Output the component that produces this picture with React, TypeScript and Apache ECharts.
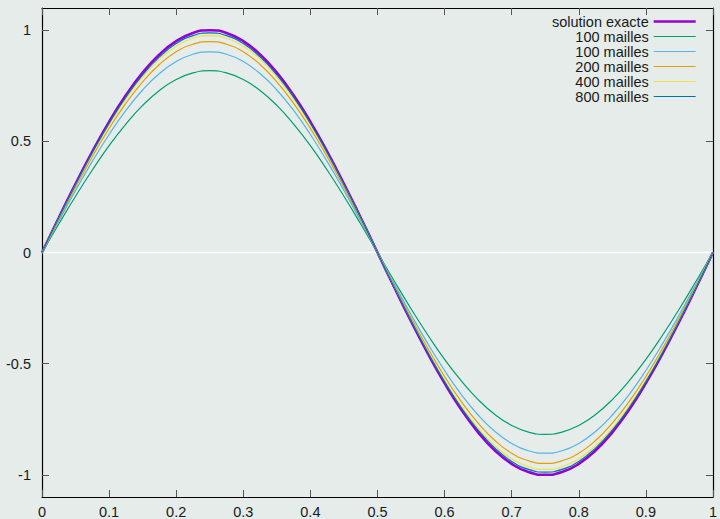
import React, { useEffect, useRef } from "react";
import * as echarts from "echarts";

const xs = [0, 0.025, 0.05, 0.075, 0.1, 0.125, 0.15, 0.175, 0.2, 0.225, 0.25, 0.275, 0.3, 0.325, 0.35, 0.375, 0.4, 0.425, 0.45, 0.475, 0.5, 0.525, 0.55, 0.575, 0.6, 0.625, 0.65, 0.675, 0.7, 0.725, 0.75, 0.775, 0.8, 0.825, 0.85, 0.875, 0.9, 0.925, 0.95, 0.975, 1];

const exacte = [0, 0.156, 0.309, 0.454, 0.588, 0.707, 0.809, 0.891, 0.951, 0.988, 1, 0.988, 0.951, 0.891, 0.809, 0.707, 0.588, 0.454, 0.309, 0.156, 0, -0.156, -0.309, -0.454, -0.588, -0.707, -0.809, -0.891, -0.951, -0.988, -1, -0.988, -0.951, -0.891, -0.809, -0.707, -0.588, -0.454, -0.309, -0.156, 0];

const mailles100a = [0, 0.128, 0.253, 0.371, 0.481, 0.578, 0.662, 0.729, 0.778, 0.808, 0.818, 0.808, 0.778, 0.729, 0.662, 0.578, 0.481, 0.371, 0.253, 0.128, 0, -0.128, -0.253, -0.371, -0.481, -0.578, -0.662, -0.729, -0.778, -0.808, -0.818, -0.808, -0.778, -0.729, -0.662, -0.578, -0.481, -0.371, -0.253, -0.128, 0];

const mailles100b = [0, 0.141, 0.279, 0.41, 0.531, 0.639, 0.731, 0.805, 0.859, 0.892, 0.903, 0.892, 0.859, 0.805, 0.731, 0.639, 0.531, 0.41, 0.279, 0.141, 0, -0.141, -0.279, -0.41, -0.531, -0.639, -0.731, -0.805, -0.859, -0.892, -0.903, -0.892, -0.859, -0.805, -0.731, -0.639, -0.531, -0.41, -0.279, -0.141, 0];

const mailles200 = [0, 0.148, 0.293, 0.431, 0.558, 0.671, 0.768, 0.846, 0.903, 0.937, 0.949, 0.937, 0.903, 0.846, 0.768, 0.671, 0.558, 0.431, 0.293, 0.148, 0, -0.148, -0.293, -0.431, -0.558, -0.671, -0.768, -0.846, -0.903, -0.937, -0.949, -0.937, -0.903, -0.846, -0.768, -0.671, -0.558, -0.431, -0.293, -0.148, 0];

const mailles400 = [0, 0.153, 0.302, 0.443, 0.574, 0.69, 0.79, 0.87, 0.928, 0.964, 0.976, 0.964, 0.928, 0.87, 0.79, 0.69, 0.574, 0.443, 0.302, 0.153, 0, -0.153, -0.302, -0.443, -0.574, -0.69, -0.79, -0.87, -0.928, -0.964, -0.976, -0.964, -0.928, -0.87, -0.79, -0.69, -0.574, -0.443, -0.302, -0.153, 0];

const mailles800 = [0, 0.155, 0.305, 0.449, 0.581, 0.699, 0.799, 0.88, 0.94, 0.976, 0.988, 0.976, 0.94, 0.88, 0.799, 0.699, 0.581, 0.449, 0.305, 0.155, 0, -0.155, -0.305, -0.449, -0.581, -0.699, -0.799, -0.88, -0.94, -0.976, -0.988, -0.976, -0.94, -0.88, -0.799, -0.699, -0.581, -0.449, -0.305, -0.155, 0];

const seriesNames = ["solution exacte", "100 mailles#a", "100 mailles#b", "200 mailles", "400 mailles", "800 mailles"];
const seriesValues = [exacte, mailles100a, mailles100b, mailles200, mailles400, mailles800];
const seriesColors = ["#9400d3", "#009e73", "#56b4e9", "#e69f00", "#f0e442", "#0072b2"];
const seriesWidths = [2.6, 1.2, 1.2, 1.2, 1.2, 1.2];

const xTicks = [0, 0.1, 0.2, 0.3, 0.4, 0.5, 0.6, 0.7, 0.8, 0.9, 1];
const yTicks = [-1, -0.5, 0, 0.5, 1];
const zeroLine = [[0, 0], [1, 0]];

const FONT = "Liberation Sans";
const BG = "#e5ecea";

export default function App() {
  const ref = useRef<HTMLDivElement>(null);

  useEffect(() => {
    if (!ref.current) return;
    const chart = echarts.init(ref.current, undefined, { renderer: "svg" });

    const tickStyle = { show: true, inside: true, length: 7, lineStyle: { color: "#555", width: 1 } };
    const axisLine = { show: true, onZero: false, lineStyle: { color: "#000", width: 1.2 } };

    const xBase = {
      type: "value" as const,
      min: 0,
      max: 1,
      interval: 0.1,
      splitLine: { show: false },
      axisLine,
    };
    const yBase = {
      type: "value" as const,
      min: -1.1,
      max: 1.1,
      splitLine: { show: false },
      axisLine,
    };

    chart.setOption({
      animation: false,
      backgroundColor: BG,
      grid: { left: 42, right: 5, top: 8, bottom: 21, containLabel: false },
      legend: {
        data: seriesNames,
        orient: "vertical",
        align: "right",
        right: 23,
        top: 14,
        padding: 0,
        itemGap: 0,
        itemWidth: 42,
        itemHeight: 14,
        selectedMode: false,
        itemStyle: { opacity: 0, borderWidth: 0 },
        lineStyle: { width: "inherit" },
        formatter: (name: string) => name.split("#")[0],
        textStyle: { fontFamily: FONT, fontSize: 14.5, color: "#1a1a1a", lineHeight: 14.8 },
      },
      xAxis: [
        {
          ...xBase,
          position: "bottom",
          axisTick: { ...tickStyle, customValues: xTicks },
          axisLabel: { show: true, customValues: xTicks, margin: 7, fontFamily: FONT, fontSize: 14.5, color: "#1a1a1a" },
        },
        {
          ...xBase,
          position: "top",
          axisTick: { ...tickStyle, customValues: xTicks },
          axisLabel: { show: false },
        },
      ],
      yAxis: [
        {
          ...yBase,
          position: "left",
          axisTick: { ...tickStyle, customValues: yTicks },
          axisLabel: { show: true, customValues: yTicks, margin: 11, fontFamily: FONT, fontSize: 14.5, color: "#1a1a1a" },
        },
        {
          ...yBase,
          position: "right",
          axisTick: { ...tickStyle, customValues: yTicks },
          axisLabel: { show: false },
        },
      ],
      series: [
        {
          name: "zero",
          type: "line",
          data: zeroLine,
          xAxisIndex: 0,
          yAxisIndex: 0,
          symbol: "none",
          silent: true,
          z: 1,
          lineStyle: { color: "#ffffff", width: 1.6 },
        },
        ...seriesNames.map((name, i) => ({
          name,
          type: "line",
          xAxisIndex: 0,
          yAxisIndex: 0,
          data: xs.map((x, j) => [x, seriesValues[i][j]]),
          symbol: "none",
          smooth: true,
          z: 2,
          itemStyle: { color: seriesColors[i] },
          lineStyle: { color: seriesColors[i], width: seriesWidths[i] },
        })),
      ],
    });

    return () => chart.dispose();
  }, []);

  return (
    <div
      ref={ref}
      style={{ position: "absolute", left: 0, top: 0, width: 720, height: 519 }}
    />
  );
}
